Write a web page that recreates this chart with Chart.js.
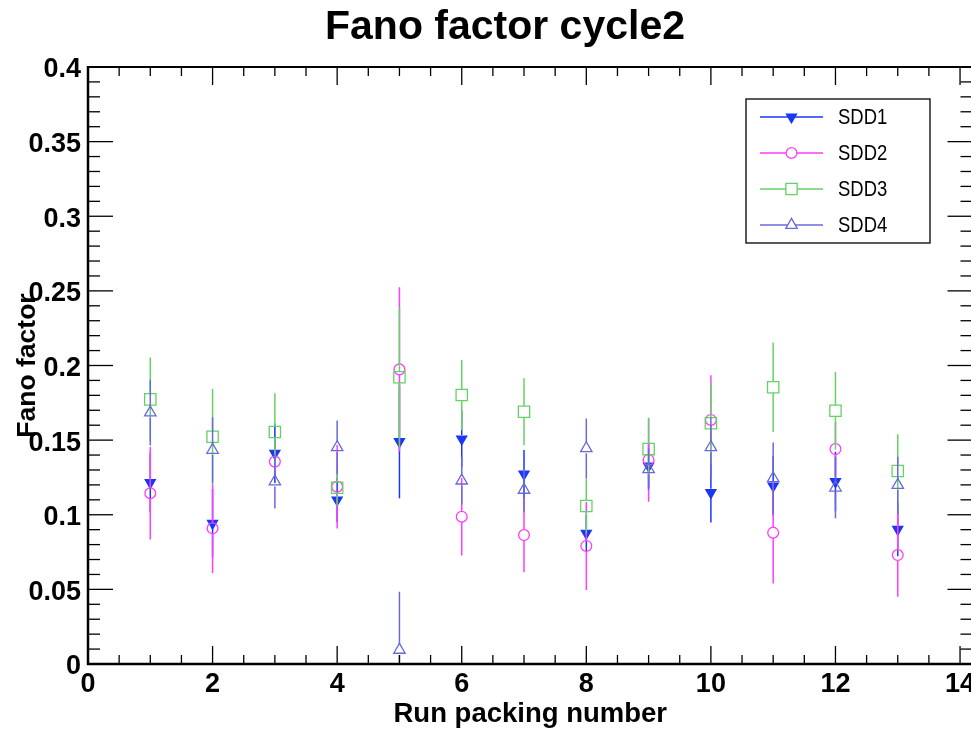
<!DOCTYPE html>
<html>
<head>
<meta charset="utf-8">
<title>Fano factor cycle2</title>
<script src="https://cdn.jsdelivr.net/npm/chart.js@4.4.1/dist/chart.umd.min.js"></script>
<style>
  html, body { margin: 0; padding: 0; background: #fff; overflow: hidden; }
  #wrap { width: 971px; height: 729px; overflow: hidden; position: relative; }
  canvas { display: block; }
</style>
</head>
<body>
<div id="wrap"><canvas id="fanoChart" width="1000" height="729"></canvas></div>
<script>
// run packing numbers on the x axis
const runNumbers = [1, 2, 3, 4, 5, 6, 7, 8, 9, 10, 11, 12, 13];

const seriesNames = ['SDD1', 'SDD2', 'SDD3', 'SDD4'];

// Fano factor per SDD, with the symmetric error
const sdd1Fano = [0.1215, 0.0943, 0.1412, 0.1099, 0.1490, 0.1508, 0.1273, 0.0876, 0.1327, 0.1148, 0.1193, 0.1222, 0.0902];
const sdd1Err  = [0.020, 0.023, 0.020, 0.015, 0.038, 0.019, 0.016, 0.012, 0.015, 0.020, 0.020, 0.020, 0.018];

const sdd2Fano = [0.1144, 0.0909, 0.1356, 0.1188, 0.1974, 0.0987, 0.0864, 0.0791, 0.1367, 0.1635, 0.0880, 0.1440, 0.0730];
const sdd2Err  = [0.031, 0.030, 0.010, 0.028, 0.055, 0.026, 0.025, 0.0295, 0.028, 0.030, 0.034, 0.018, 0.028];

const sdd3Fano = [0.1773, 0.1523, 0.1554, 0.1181, 0.1921, 0.1802, 0.1690, 0.1059, 0.1440, 0.1613, 0.1854, 0.1697, 0.1293];
const sdd3Err  = [0.028, 0.032, 0.026, 0.012, 0.047, 0.0235, 0.0225, 0.0185, 0.021, 0.027, 0.030, 0.026, 0.0246];

const sdd4Fano = [0.1684, 0.1434, 0.1222, 0.1452, 0.0094, 0.1228, 0.1166, 0.1445, 0.1304, 0.1452, 0.1244, 0.1181, 0.1199];
const sdd4Err  = [0.022, 0.022, 0.018, 0.018, 0.039, 0.016, 0.015, 0.020, 0.014, 0.020, 0.024, 0.0205, 0.019];

const xTickValues = [0, 2, 4, 6, 8, 10, 12, 14];

const chartTitle = 'Fano factor cycle2';

const FONT = "'Liberation Sans', Arial, Helvetica, sans-serif";

const styles = [
    { color: 'rgb(25,55,245)',   point: 'triangle', rotation: 180, radius: 5.8, fill: true,  gap: 4 },
    { color: 'rgb(255,60,255)',  point: 'circle',   rotation: 0,   radius: 5.4, fill: false, gap: 5.4 },
    { color: 'rgb(100,210,100)', point: 'rect',     rotation: 0,   radius: 8,   fill: false, gap: 5.7 },
    { color: 'rgb(105,105,222)', point: 'triangle', rotation: 0,   radius: 6.6, fill: false, gap: 5 }
];

const allValues = [sdd1Fano, sdd2Fano, sdd3Fano, sdd4Fano];
const allErrors = [sdd1Err, sdd2Err, sdd3Err, sdd4Err];

const datasets = seriesNames.map((name, i) => ({
    label: name,
    data: runNumbers.map((x, j) => ({ x: x, y: allValues[i][j] })),
    errors: allErrors[i],
    showLine: false,
    pointStyle: styles[i].point,
    rotation: styles[i].rotation,
    pointRadius: styles[i].radius,
    pointHoverRadius: styles[i].radius,
    borderColor: styles[i].color,
    backgroundColor: styles[i].fill ? styles[i].color : 'rgba(0,0,0,0)',
    pointBorderWidth: 1.3,
    order: 4 - i
}));

// vertical error bars, drawn just before each dataset's markers
const errorBars = {
    id: 'errorBars',
    beforeDatasetDraw(chart, args) {
        const ds = chart.data.datasets[args.index];
        const st = styles[args.index];
        const xs = chart.scales.x, ys = chart.scales.y;
        const area = chart.chartArea;
        const ctx = chart.ctx;
        ctx.save();
        ctx.beginPath();
        ctx.rect(area.left, area.top, area.right - area.left, area.bottom - area.top);
        ctx.clip();
        ctx.strokeStyle = st.color;
        ctx.lineWidth = 1.5;
        ds.data.forEach((p, j) => {
            const e = ds.errors[j];
            const px = xs.getPixelForValue(p.x);
            const py = ys.getPixelForValue(p.y);
            const hi = ys.getPixelForValue(p.y + e);
            const lo = ys.getPixelForValue(p.y - e);
            ctx.beginPath();
            if (hi < py - st.gap) { ctx.moveTo(px, hi); ctx.lineTo(px, py - st.gap); }
            if (lo > py + st.gap) { ctx.moveTo(px, py + st.gap); ctx.lineTo(px, lo); }
            ctx.stroke();
        });
        ctx.restore();
    }
};

function seg(ctx, x1, y1, x2, y2) {
    ctx.beginPath();
    ctx.moveTo(x1, y1);
    ctx.lineTo(x2, y2);
    ctx.stroke();
}

// frame with inward ticks on all four sides
const frameTicks = {
    id: 'frameTicks',
    afterDatasetsDraw(chart) {
        const ctx = chart.ctx;
        const xs = chart.scales.x, ys = chart.scales.y;
        const { left, right, top, bottom } = chart.chartArea;
        ctx.save();
        ctx.strokeStyle = '#000';
        ctx.lineWidth = 1.3;
        for (let k = 0; k <= 40; k++) {
            const py = ys.getPixelForValue(k / 100);
            const len = k % 5 === 0 ? 25 : 12;
            seg(ctx, left, py, left + len, py);
            seg(ctx, right, py, right - len, py);
        }
        for (let k = 0; k <= 28; k++) {
            const px = xs.getPixelForValue(k * 0.5);
            const len = k % 4 === 0 ? 18 : 9;
            seg(ctx, px, bottom, px, bottom - len);
            seg(ctx, px, top, px, top + len);
        }
        ctx.lineWidth = 2;
        seg(ctx, left - 1, top, right, top);
        seg(ctx, right, top, right, bottom);
        ctx.lineWidth = 2.5;
        seg(ctx, left, top - 1, left, bottom + 1);
        seg(ctx, left - 1, bottom, right, bottom);
        ctx.restore();
    }
};

// title sits over the middle of the pad, not the plot frame
const padTitle = {
    id: 'padTitle',
    afterDraw(chart) {
        const ctx = chart.ctx;
        ctx.save();
        ctx.font = 'bold 41px ' + FONT;
        ctx.fillStyle = '#000';
        ctx.textAlign = 'center';
        ctx.textBaseline = 'alphabetic';
        ctx.fillText(chartTitle, 505, 38.5);
        ctx.restore();
    }
};

function legendMarker(ctx, i, x, y) {
    const st = styles[i];
    const r = st.radius;
    ctx.beginPath();
    if (st.point === 'circle') {
        ctx.arc(x, y, r, 0, Math.PI * 2);
    } else if (st.point === 'rect') {
        const s = r * Math.SQRT1_2;
        ctx.rect(x - s, y - s, 2 * s, 2 * s);
    } else {
        const dir = st.rotation === 180 ? -1 : 1;
        const h = Math.cos(Math.PI / 6) * r;
        ctx.moveTo(x, y - dir * r);
        ctx.lineTo(x - h, y + dir * r / 2);
        ctx.lineTo(x + h, y + dir * r / 2);
        ctx.closePath();
    }
    ctx.fillStyle = st.fill ? st.color : '#fff';
    ctx.fill();
    ctx.stroke();
}

const boxLegend = {
    id: 'boxLegend',
    afterDraw(chart) {
        const ctx = chart.ctx;
        const bx = 746, by = 99, bw = 184, bh = 144;
        ctx.save();
        ctx.fillStyle = '#fff';
        ctx.fillRect(bx, by, bw, bh);
        ctx.strokeStyle = '#000';
        ctx.lineWidth = 1.3;
        ctx.strokeRect(bx, by, bw, bh);
        ctx.font = '22px ' + FONT;
        ctx.textBaseline = 'middle';
        ctx.textAlign = 'left';
        seriesNames.forEach((name, i) => {
            const y = 117 + i * 36;
            ctx.strokeStyle = styles[i].color;
            ctx.lineWidth = 1.5;
            seg(ctx, 760, y, 823, y);
            ctx.lineWidth = 1.3;
            legendMarker(ctx, i, 791.5, y);
            ctx.fillStyle = '#000';
            // the labels use a narrow face
            ctx.save();
            ctx.translate(838, y + 1);
            ctx.scale(0.84, 1);
            ctx.fillText(name, 0, 0);
            ctx.restore();
        });
        ctx.restore();
    }
};

new Chart(document.getElementById('fanoChart'), {
    type: 'scatter',
    data: { datasets: datasets },
    options: {
        responsive: false,
        animation: false,
        events: [],
        layout: { padding: { left: 0, right: 27.5, top: 67, bottom: 0 } },
        plugins: {
            legend: { display: false },
            tooltip: { enabled: false },
            title: { display: false }
        },
        scales: {
            x: {
                type: 'linear',
                min: 0,
                max: 14.2,
                afterFit(scale) { scale.height = 65; },
                afterBuildTicks(scale) { scale.ticks = xTickValues.map(v => ({ value: v })); },
                grid: { display: false, drawTicks: false },
                border: { display: false },
                ticks: {
                    autoSkip: false,
                    maxRotation: 0,
                    padding: 4,
                    color: '#000',
                    font: { family: FONT, size: 27, weight: 'bold' },
                    callback: v => String(v)
                },
                title: {
                    display: true,
                    text: 'Run packing number',
                    color: '#000',
                    font: { family: FONT, size: 27.5, weight: 'bold', lineHeight: 1.08 },
                    padding: { top: 0, bottom: 0 }
                }
            },
            y: {
                min: 0,
                max: 0.4,
                afterFit(scale) { scale.width = 88; },
                grid: { display: false, drawTicks: false },
                border: { display: false },
                ticks: {
                    stepSize: 0.05,
                    padding: 7,
                    labelOffset: 3,
                    color: '#000',
                    font: { family: FONT, size: 27, weight: 'bold' },
                    callback: v => String(+v.toFixed(2))
                },
                title: {
                    display: true,
                    text: 'Fano factor',
                    color: '#000',
                    font: { family: FONT, size: 26.5, weight: 'bold', lineHeight: 1.2 },
                    padding: { top: 11.5, bottom: 0 }
                }
            }
        }
    },
    plugins: [errorBars, frameTicks, padTitle, boxLegend]
});
</script>
</body>
</html>
